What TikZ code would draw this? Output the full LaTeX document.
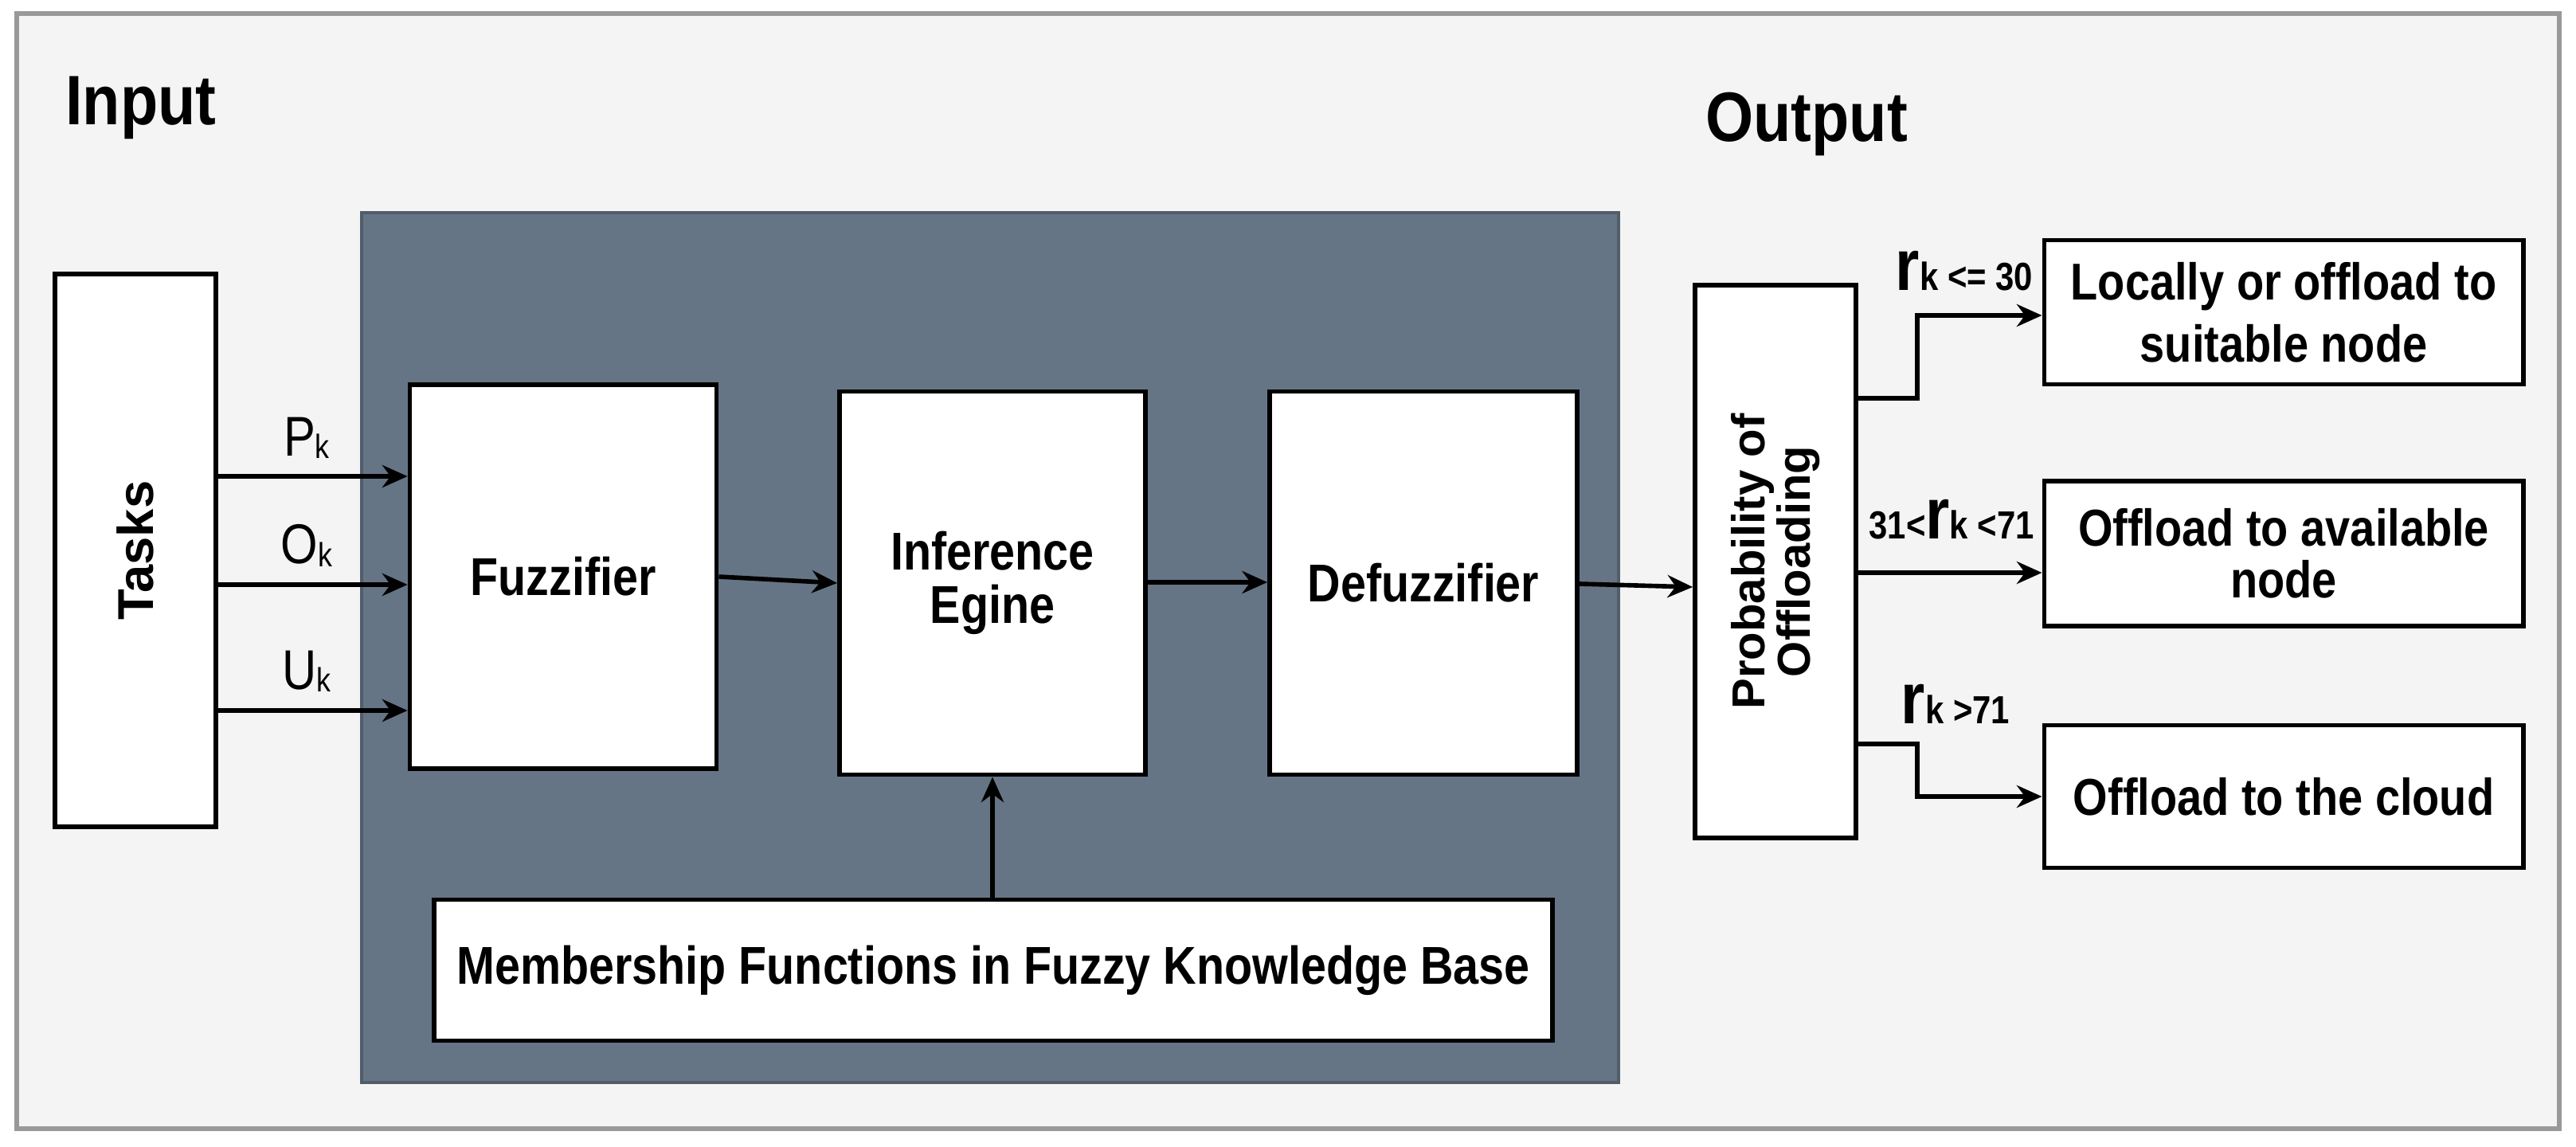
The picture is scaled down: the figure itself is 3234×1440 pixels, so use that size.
\documentclass[tikz,border=0pt]{standalone}
\usepackage{fontspec}
\setmainfont{Liberation Sans}
\usetikzlibrary{arrows.meta}
\definecolor{bgc}{HTML}{F4F4F4}
\definecolor{dark}{HTML}{657585}
\newcommand{\bt}[1]{\fontsize{19}{23}\selectfont\bfseries\scalebox{0.86}[1]{#1}}
\newcommand{\rt}[1]{\fontsize{18.5}{23}\selectfont\bfseries\scalebox{0.86}[1]{#1}}
\begin{document}
\begin{tikzpicture}[x=0.01cm,y=-0.01cm,
  box/.style={draw=black,line width=1.6pt,fill=white,inner sep=0pt,align=center},
  arr/.style={-{Stealth[length=9pt,width=8pt]},line width=1.6pt},
  lab/.style={font=\fontsize{20}{22}\selectfont,xscale=0.85,inner sep=1pt}]
\useasboundingbox (0,0) rectangle (3234,1440);
\fill[white] (0,0) rectangle (3234,1440);
\draw[fill=bgc,draw=gray!80,line width=1.5pt] (21,17) rectangle (3213,1417);
\node[font=\fontsize{25}{28}\selectfont\bfseries,xscale=0.88] (in) at (177,135) {Input};
\node[font=\fontsize{25}{28}\selectfont\bfseries,xscale=0.88] (out) at (2268,156) {Output};
\draw[fill=dark,draw=dark!80!black,line width=1pt] (454,267) rectangle (2032,1359);
% nodes
\node[box,minimum width=6.94cm,minimum height=2.02cm,rotate=90] (tasks) at (170,691)
  {\fontsize{18}{21}\selectfont\bfseries Tasks};
\node[box,minimum width=3.85cm,minimum height=4.82cm] (fuz) at (707,724) {\bt{Fuzzifier}};
\node[box,minimum width=3.84cm,minimum height=4.81cm] (inf) at (1246,732) {\bt{Inference}\\[4pt]\bt{Egine}};
\node[box,minimum width=3.86cm,minimum height=4.81cm] (def) at (1787,732) {\bt{Defuzzifier}};
\node[box,minimum width=14.03cm,minimum height=1.77cm] (mem) at (1247,1218) {\bt{Membership Functions in Fuzzy Knowledge Base}};
\node[box,minimum width=6.94cm,minimum height=2.02cm,rotate=90] (prob) at (2229,705)
  {\fontsize{16.5}{21}\selectfont\bfseries Probability of\\\fontsize{16.5}{21}\selectfont\bfseries Offloading};
\node[box,minimum width=6.01cm,minimum height=1.81cm] (b1) at (2867,392) {\rt{Locally or offload to}\\[4pt]\rt{suitable node}};
\node[box,minimum width=6.01cm,minimum height=1.82cm] (b2) at (2867,695) {\rt{Offload to available}\\[4pt]\rt{node}};
\node[box,minimum width=6.01cm,minimum height=1.79cm] (b3) at (2867,1000) {\rt{Offload to the cloud}};
% connectors
\foreach \yy/\nm in {598/p,734/o,892/u}{
  \coordinate (s\nm) at (271,\yy);
  \draw[arr] (s\nm) -- (fuz.west |- s\nm);
}
\node[lab] at (385,550) {P\raisebox{-1pt}{\fontsize{12}{13}\selectfont k}};
\node[lab] at (385,685) {O\raisebox{-1pt}{\fontsize{12}{13}\selectfont k}};
\node[lab] at (385,843) {U\raisebox{-1pt}{\fontsize{12}{13}\selectfont k}};
\draw[arr] (fuz.east |- 0,724) -- (inf.west |- 0,732);
\draw[arr] (inf.east |- 0,731) -- (def.west |- 0,731);
\draw[arr] (def.east |- 0,733) -- (prob.north |- 0,737);
\draw[arr] (mem.north -| inf) -- (inf.south);
\coordinate (o1) at (2330,500);
\coordinate (o2) at (2330,719);
\coordinate (o3) at (2330,934);
\draw[arr] (o1) -- (2407,500) -- (2407,396) -- (b1.west |- 0,396);
\draw[arr] (o2) -- (b2.west |- o2);
\draw[arr] (o3) -- (2407,934) -- (2407,1000) -- (b3.west |- 0,1000);
\node[inner sep=0pt,xscale=0.85] at (2466,340) {\fontsize{26}{28}\selectfont\bfseries r\fontsize{14}{15}\selectfont\bfseries k <= 30};
\node[inner sep=0pt,xscale=0.85] at (2450,652) {\fontsize{14}{15}\selectfont\bfseries 31<\fontsize{26}{28}\selectfont r\fontsize{14}{15}\selectfont k <71};
\node[inner sep=0pt,xscale=0.85] at (2455,884) {\fontsize{26}{28}\selectfont\bfseries r\fontsize{14}{15}\selectfont\bfseries k >71};
\end{tikzpicture}
\end{document}
